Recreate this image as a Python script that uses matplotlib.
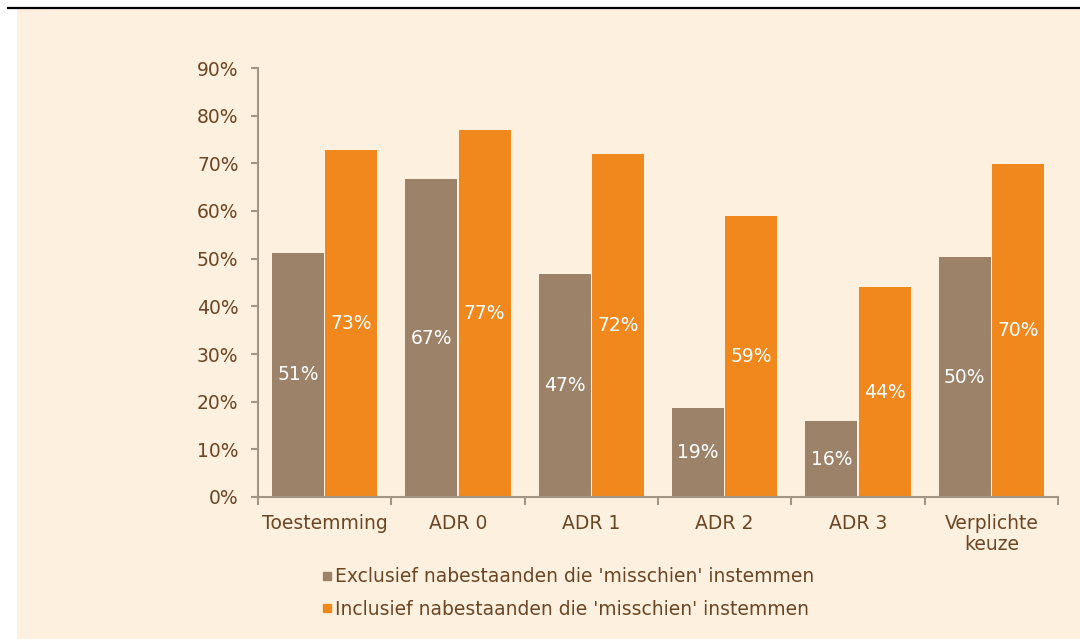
import matplotlib.pyplot as plt
from matplotlib.patches import Rectangle
from matplotlib.lines import Line2D
import numpy as np

# Data (percent)
categories = ['Toestemming', 'ADR 0', 'ADR 1', 'ADR 2', 'ADR 3', 'Verplichte\nkeuze']
exclusief = [51.2, 66.7, 46.8, 18.7, 15.9, 50.3]
inclusief = [72.8, 77.0, 71.9, 58.9, 44.0, 69.9]
series_names = ["Exclusief nabestaanden die 'misschien' instemmen",
                "Inclusief nabestaanden die 'misschien' instemmen"]

BG = '#FEF0DE'
TEXT = '#6B4524'
AXIS = '#A39585'
COLORS = ['#9C8268', '#F0881E']
FS = 13.5

plt.rcParams['font.family'] = 'sans-serif'
plt.rcParams['font.sans-serif'] = ['DejaVu Sans']
plt.rcParams['font.size'] = FS

fig = plt.figure(figsize=(10.8, 6.39), dpi=100)
fig.patch.set_facecolor('white')
# cream panel and top rule
fig.patches.append(Rectangle((17 / 1080, 0), 1 - 17 / 1080, 1 - 9 / 639,
                             transform=fig.transFigure, facecolor=BG,
                             edgecolor='none', zorder=-10))
fig.lines.append(Line2D([8 / 1080, 1], [1 - 8 / 639, 1 - 8 / 639],
                        transform=fig.transFigure, color='black', linewidth=1.6))

ax = fig.add_axes([258 / 1080, 1 - 497 / 639, 800 / 1080, (497 - 68) / 639])
ax.set_facecolor(BG)

x = np.arange(len(categories))
width = 0.39
for offset, vals, color in [(-0.2, exclusief, COLORS[0]), (0.2, inclusief, COLORS[1])]:
    bars = ax.bar(x + offset, vals, width=width, color=color,
                  edgecolor='none', zorder=2)
    for b, v in zip(bars, vals):
        ax.text(b.get_x() + b.get_width() / 2, v / 2, f'{round(v):d}%',
                ha='center', va='center', color='white', fontsize=FS, zorder=3)

ax.set_xlim(-0.5, len(categories) - 0.5)
ax.set_ylim(0, 90)
ax.set_yticks(np.arange(0, 91, 10))
ax.set_yticklabels([f'{v}%' for v in range(0, 91, 10)])

ax.set_xticks(x)
ax.set_xticklabels(categories, linespacing=1.15)
ax.set_xticks(np.arange(-0.5, len(categories)), minor=True)
ax.tick_params(axis='x', which='major', length=0, pad=12, colors=TEXT, labelsize=FS)
ax.tick_params(axis='x', which='minor', length=6, width=1.5, color=AXIS)
ax.tick_params(axis='y', length=5, width=1.5, color=AXIS, colors=TEXT,
               labelsize=FS, pad=9)
for lbl in ax.get_xticklabels():
    lbl.set_color(TEXT)

for side in ['top', 'right']:
    ax.spines[side].set_visible(False)
for side in ['left', 'bottom']:
    ax.spines[side].set_color(AXIS)
    ax.spines[side].set_linewidth(1.5)

handles = [Line2D([], [], marker='s', linestyle='none', markersize=6,
                  color=c) for c in COLORS]
leg = fig.legend(handles, series_names, loc='center left',
                 bbox_to_anchor=(320 / 1080, 1 - 593 / 639), frameon=False,
                 handletextpad=0.1, labelspacing=0.7, fontsize=FS,
                 handlelength=0.7, borderpad=0, borderaxespad=0)
for t in leg.get_texts():
    t.set_color(TEXT)

fig.savefig('out.png', dpi=100, facecolor=fig.get_facecolor())
